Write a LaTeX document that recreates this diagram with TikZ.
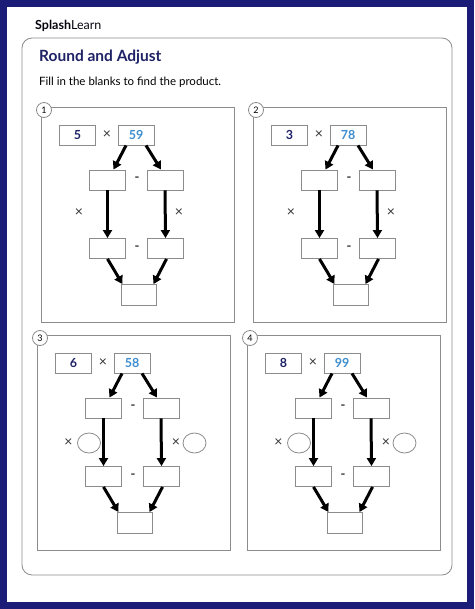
\documentclass[tikz,border=0pt]{standalone}
\usepackage{fontspec}
\setmainfont{Lato}
\usetikzlibrary{arrows.meta,calc,shapes.geometric}
\definecolor{frameblue}{HTML}{1B1C78}
\definecolor{titlenavy}{HTML}{1F2366}
\definecolor{numblue}{HTML}{3E8ED0}
\definecolor{linegray}{HTML}{8C8C8C}

\begin{document}
\begin{tikzpicture}[x=1pt, y=-1pt,
    blank/.style={draw=linegray, line width=0.9pt, minimum width=36pt, minimum height=20pt, inner sep=0pt},
    numbox/.style={blank, font=\fontsize{12.5}{12.5}\selectfont\bfseries},
    oval/.style={ellipse, draw=linegray, line width=0.8pt, minimum width=23pt, minimum height=20pt, inner sep=0pt},
    sign/.style={inner sep=0pt, font=\fontsize{14}{14}\selectfont, text=black!80},
    dash sign/.style={inner sep=0pt, font=\fontsize{13}{13}\selectfont\bfseries, text=black!80},
    flow/.style={line width=3pt, -{Triangle[length=8pt,width=9pt]}},
    tag/.style={circle, draw=linegray, fill=white, line width=0.8pt, minimum size=15pt, inner sep=0pt, font=\fontsize{9}{9}\selectfont}]

    % Page frame
    \fill[frameblue] (0,0) rectangle (474,609);
    \fill[white] (7,7) rectangle (467,602);
    \node[anchor=west, inner sep=0pt, text=black!85!titlenavy, font=\fontsize{12.5}{12.5}\selectfont] (logo) at (35,26) {\textbf{Splash}Learn};
    \draw[linegray, line width=0.8pt, rounded corners=10pt] (22,38) rectangle (452,575);

    % Heading
    \node[anchor=west, inner sep=0pt, text=titlenavy, font=\fontsize{15.5}{15.5}\selectfont\bfseries] (title) at (39,57) {Round and Adjust};
    \node[anchor=west, inner sep=0pt, font=\fontsize{11.5}{11.5}\selectfont] (hint) at (39,82) {Fill in the blanks to find the product.};

    % Problems
    \foreach \n/\px/\py/\a/\b in {1/41/107/5/59, 2/253/107/3/78, 3/37/335/6/58, 4/247/335/8/99} {
        \begin{scope}[shift={(\px,\py)}]
            \draw[linegray, line width=0.9pt] (0,0) rectangle (193,215);
            \node[tag] (n\n) at (3,3) {\n};

            % factors
            \node[numbox, text=titlenavy] (a\n) at (36.5,28) {\a};
            \node[sign] (t\n) at (66,28) {×};
            \node[numbox, text=numblue] (b\n) at (95,28) {\b};

            % rounded and adjusted parts
            \node[blank] (l\n) at (66.5,73) {};
            \node[blank] (r\n) at (124,73) {};
            \node[dash sign] (m\n) at (96,72) {-};

            % partial products
            \node[blank] (p\n) at (66.5,141.5) {};
            \node[blank] (q\n) at (124.5,141.5) {};
            \node[dash sign] (k\n) at (96,141) {-};

            % answer
            \node[blank, minimum width=35pt, minimum height=21pt] (s\n) at (97.5,188) {};

            \draw[flow] ($(b\n.south)+(-10,0)$) -- ($(l\n.north)+(6,0)$);
            \draw[flow] ($(b\n.south)+(10,0)$) -- ($(r\n.north)+(-4,0)$);
            \draw[flow] (l\n.south) -- (p\n.north);
            \draw[flow] (r\n.south) -- (q\n.north);
            \draw[flow] (p\n.south) -- ($(s\n.north)+(-16,0)$);
            \draw[flow] ($(q\n.south)+(1,0)$) -- ($(s\n.north)+(15,0)$);
        \end{scope}
    }

    % Side signs
    \foreach \n/\px/\py in {1/41/107, 2/253/107} {
        \begin{scope}[shift={(\px,\py)}]
            \node[sign] (x\n) at (38,106) {×};
            \node[sign] (y\n) at (138,106) {×};
        \end{scope}
    }
    \foreach \n/\px/\py in {3/37/335, 4/247/335} {
        \begin{scope}[shift={(\px,\py)}]
            \node[sign] (x\n) at (31.5,108) {×};
            \node[oval] (u\n) at (52,108) {};
            \node[sign] (y\n) at (139,108) {×};
            \node[oval] (v\n) at (157.5,108) {};
        \end{scope}
    }

\end{tikzpicture}
\end{document}
